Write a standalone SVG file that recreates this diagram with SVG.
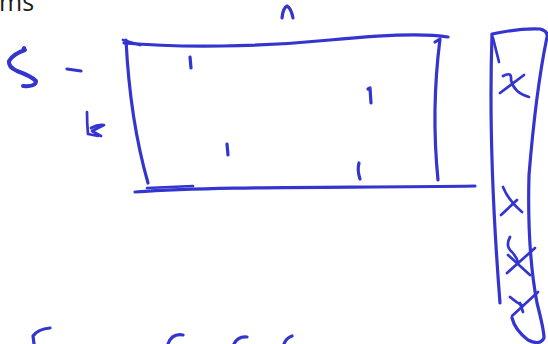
<svg xmlns="http://www.w3.org/2000/svg" width="548" height="344" viewBox="0 0 548 344">
<style>
.ink{fill:none;stroke:#3434cf;stroke-width:3.2;stroke-linecap:round;stroke-linejoin:round}
.thin{stroke-width:2.7}
.bold{stroke-width:4}
.txt{font-family:"Open Sans","Noto Sans",sans-serif;font-size:25px;fill:#1a1a1a}
</style>
<rect width="548" height="344" fill="#ffffff"/>
<text class="txt" x="-1" y="11">ms</text>
<g id="labels">
<path class="ink bold" d="M24,48 Q22,51 25,50 Q13,54 9,61 Q8,67 17,71 Q31,76 36,81 Q36,87 23,86"/>
<path class="ink" d="M67,69 L81,71"/>
<path class="ink thin" d="M87,112 Q87,124 88,134 M88,134 L98,136 M91,128 Q98,124 104,125 Q96,129 92,131 L101,136"/>
<path class="ink" d="M282,18 Q283,8 287,6 Q291,8 293,18"/>
</g>
<g id="matrix">
<path class="ink" d="M124,43 C180,48 260,47 330,40 C380,35 425,33 448,37"/>
<path class="ink thin" d="M123,40 L140,45"/>
<path class="ink" d="M126,40 Q130,120 148,183"/>
<path class="ink" d="M435,42 L440,39 Q431,110 438,180"/>
<path class="ink" d="M135,192 C220,186 350,188 475,186"/>
<path class="ink thin" d="M147,188 L193,186"/>
<path class="ink" d="M190,57 L191,68"/>
<path class="ink" d="M368,89 L370,88 L371,103"/>
<path class="ink" d="M227,144 L228,155"/>
<path class="ink" d="M359,163 Q357,170 360,179"/>
</g>
<g id="vector">
<path class="ink" d="M492,34 Q520,28 540,29 Q548,31 547,37 Q536,90 529,175 Q527,250 537,303 Q544,330 544,338 Q540,346 528,340 Q515,330 512,318"/>
<path class="ink" d="M492,35 Q488,150 500,303"/>
<path class="ink thin" d="M493,38 L499,62"/>
<path class="ink thin" d="M524,75 L500,93"/>
<path class="ink thin" d="M503,76 Q512,71 511,80 Q514,93 529,97"/>
<path class="ink thin" d="M503,187 Q508,200 522,212"/>
<path class="ink thin" d="M517,200 L501,215"/>
<path class="ink thin" d="M510,237 Q505,246 512,252 Q517,258 518,262"/>
<path class="ink thin" d="M535,248 L507,273"/>
<path class="ink thin" d="M508,255 Q520,266 530,275"/>
<path class="ink thin" d="M510,297 Q517,303 523,306"/>
<path class="ink thin" d="M538,292 L512,316"/>
<path class="ink thin" d="M520,303 L523,312"/>
</g>
<g id="bottom">
<path class="ink" d="M50,328 Q38,329 33,336 L34,344"/>
<path class="ink" d="M183,335 Q172,333 168,344"/>
<path class="ink" d="M247,337 Q238,336 234,344"/>
<path class="ink" d="M292,336 Q286,338 284,344"/>
</g>
</svg>
